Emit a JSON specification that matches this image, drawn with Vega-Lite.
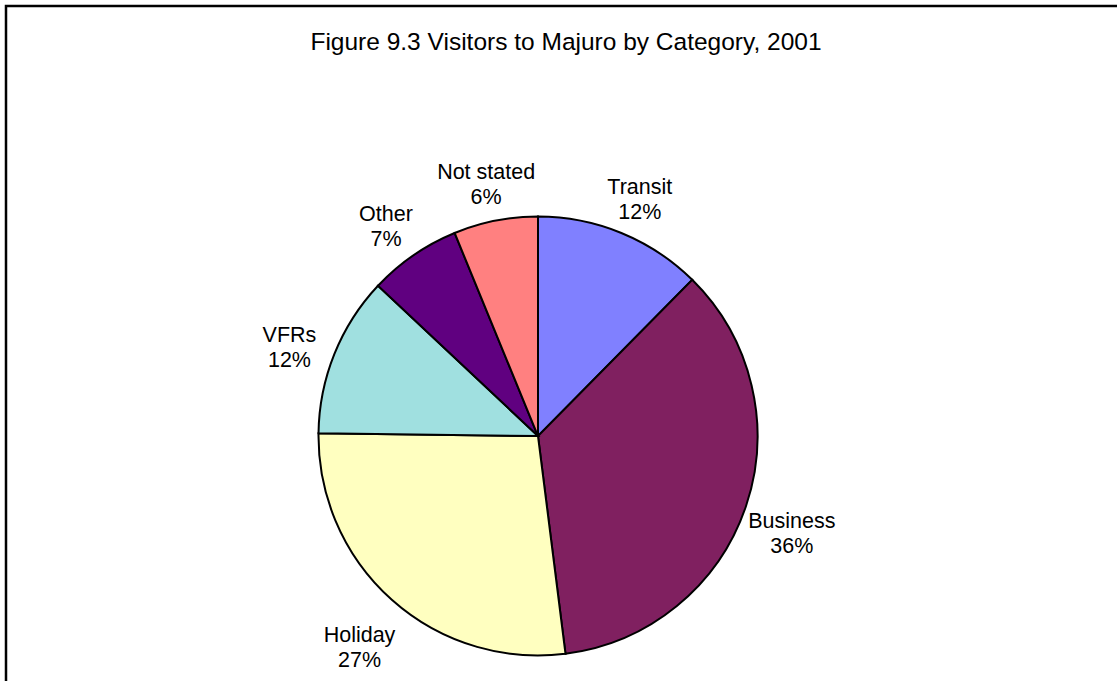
{
  "$schema": "https://vega.github.io/schema/vega-lite/v6.json",
  "width": 1120,
  "height": 690,
  "autosize": "none",
  "padding": {"left": 6, "top": 6, "right": 0, "bottom": 0},
  "background": "white",
  "view": {"stroke": "black", "strokeWidth": 2.5, "fill": "white"},
  "config": {
    "view": {"stroke": "black", "strokeWidth": 2.5},
    "font": "Liberation Sans"
  },
  "title": {
    "text": "Figure 9.3 Visitors to Majuro by Category, 2001",
    "font": "Liberation Sans",
    "fontSize": 24.5,
    "fontWeight": "normal",
    "color": "black",
    "anchor": "middle",
    "baseline": "alphabetic",
    "offset": -68
  },
  "data": {
    "values": [
      {"idx": 1, "category": "Transit", "share": 0.124},
      {"idx": 2, "category": "Business", "share": 0.356},
      {"idx": 3, "category": "Holiday", "share": 0.272},
      {"idx": 4, "category": "VFRs", "share": 0.118},
      {"idx": 5, "category": "Other", "share": 0.068},
      {"idx": 6, "category": "Not stated", "share": 0.062}
    ]
  },
  "transform": [
    {"calculate": "datum.category + '\\n' + format(datum.share, '.0%')", "as": "label"}
  ],
  "encoding": {
    "theta": {"field": "share", "type": "quantitative", "stack": true},
    "order": {"field": "idx", "type": "quantitative"}
  },
  "layer": [
    {
      "mark": {
        "type": "arc",
        "outerRadius": 219.5,
        "stroke": "black",
        "strokeWidth": 2,
        "x": {"expr": "width * 0.475"},
        "y": {"expr": "height * 0.6232"}
      },
      "encoding": {
        "color": {
          "field": "category",
          "type": "nominal",
          "scale": {
            "domain": ["Transit", "Business", "Holiday", "VFRs", "Other", "Not stated"],
            "range": ["#8080FF", "#802060", "#FFFFC0", "#A0E0E0", "#600080", "#FF8080"]
          },
          "legend": null
        }
      }
    },
    {
      "mark": {
        "type": "text",
        "radius": 268,
        "fontSize": 21.5,
        "font": "Liberation Sans",
        "color": "black",
        "align": "center",
        "baseline": "middle",
        "lineBreak": "\n",
        "lineHeight": 25,
        "x": {"expr": "width * 0.475"},
        "y": {"expr": "height * 0.6232"}
      },
      "encoding": {
        "text": {"field": "label", "type": "nominal"}
      }
    }
  ]
}
